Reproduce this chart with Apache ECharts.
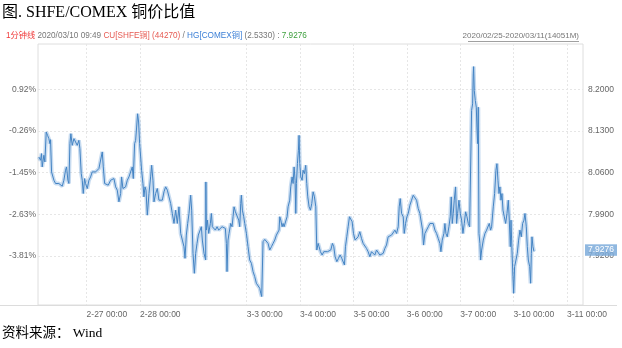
<!DOCTYPE html>
<html>
<head>
<meta charset="utf-8">
<script src="https://cdn.jsdelivr.net/npm/echarts@6/dist/echarts.min.js"></script>
<style>
html, body { margin: 0; padding: 0; background: #fff; }
#container { width: 622px; height: 348px; }
</style>
</head>
<body>
<div id="container"></div>
<script>
// 横轴单位：交易日（2-27 00:00 = 0）
const xTicks = [0, 1, 3, 4, 5, 6, 7, 8, 9];
const xLabels = ['2-27 00:00', '2-28 00:00', '3-3 00:00', '3-4 00:00', '3-5 00:00',
  '3-6 00:00', '3-7 00:00', '3-10 00:00', '3-11 00:00'];

// 左轴百分比 / 右轴比值
const ratioTicks = [8.2, 8.13, 8.06, 7.99, 7.92];
const pctLabels = ['0.92%', '-0.26%', '-1.45%', '-2.63%', '-3.81%'];

const lastRatio = 7.9276;

const times = [
  -0.894, -0.862, -0.844, -0.831, -0.800, -0.781, -0.756, -0.731, -0.706, -0.687,
  -0.675, -0.656, -0.612, -0.581, -0.550, -0.519, -0.487, -0.456, -0.425, -0.394,
  -0.375, -0.350, -0.331, -0.312, -0.294, -0.269, -0.237, -0.206, -0.175, -0.144,
  -0.125, -0.100, -0.081, -0.062, -0.037, -0.019, 0.013, 0.044, 0.075, 0.106,
  0.138, 0.169, 0.200, 0.231, 0.263, 0.294, 0.313, 0.338, 0.369, 0.406,
  0.450, 0.481, 0.513, 0.544, 0.575, 0.606, 0.638, 0.656, 0.681, 0.700,
  0.731, 0.763, 0.794, 0.825, 0.856, 0.875, 0.900, 0.919, 0.938, 0.956,
  0.975, 0.994, 1.013, 1.031, 1.056, 1.075, 1.094, 1.113, 1.138, 1.169,
  1.200, 1.219, 1.244, 1.263, 1.294, 1.325, 1.356, 1.388, 1.419, 1.450,
  1.481, 1.513, 1.544, 1.575, 1.606, 1.638, 1.669, 1.700, 1.731, 1.763,
  1.794, 1.825, 1.844, 1.869, 1.894, 1.919, 1.950, 1.969, 1.994, 2.019,
  2.044, 2.069, 2.094, 2.119, 2.150, 2.169, 2.200, 2.231,
  2.235, 2.244, 2.263, 2.288, 2.319, 2.338, 2.356, 2.381, 2.413, 2.444,
  2.475, 2.506, 2.538, 2.569, 2.600, 2.619, 2.631, 2.650, 2.669, 2.700,
  2.725, 2.744, 2.763, 2.788, 2.819, 2.850, 2.869, 2.888, 2.900, 2.919,
  2.944, 2.963, 2.994, 3.025, 3.056, 3.088, 3.119, 3.150, 3.181, 3.213,
  3.244, 3.263, 3.281, 3.306, 3.338, 3.369, 3.400, 3.431, 3.463, 3.494,
  3.525, 3.556, 3.588, 3.606, 3.619, 3.638, 3.663, 3.681, 3.700, 3.731,
  3.756, 3.775, 3.806, 3.825, 3.850, 3.869, 3.888, 3.906, 3.919, 3.931,
  3.950, 3.969, 3.981, 3.994, 4.013, 4.038, 4.056, 4.081, 4.106, 4.125,
  4.144, 4.169, 4.194, 4.219, 4.244, 4.269, 4.294, 4.313, 4.338, 4.356,
  4.381, 4.413, 4.444, 4.475, 4.513, 4.544, 4.575, 4.606, 4.631, 4.656,
  4.688, 4.719, 4.750, 4.781, 4.806, 4.831, 4.850, 4.875, 4.900, 4.925,
  4.950, 4.975, 5.000, 5.031, 5.056, 5.088, 5.119, 5.150, 5.181, 5.213,
  5.244, 5.275,
  5.307, 5.338, 5.369, 5.400, 5.432, 5.463, 5.494, 5.525, 5.557, 5.588,
  5.619, 5.650, 5.682, 5.713, 5.744, 5.776, 5.807, 5.838, 5.857, 5.876,
  5.901, 5.932, 5.951, 5.976, 6.001, 6.026, 6.057, 6.088, 6.119, 6.151,
  6.182, 6.213, 6.244, 6.276, 6.294, 6.313, 6.338, 6.369, 6.401, 6.432,
  6.463, 6.494, 6.526, 6.557, 6.588, 6.619, 6.638, 6.663, 6.694, 6.713,
  6.732, 6.757, 6.788, 6.813, 6.832, 6.851, 6.869, 6.888, 6.913, 6.932,
  6.951, 6.976, 7.001, 7.026, 7.051, 7.076, 7.101, 7.126, 7.151, 7.176,
  7.201, 7.213, 7.232, 7.244, 7.251, 7.263, 7.282, 7.301, 7.313, 7.326,
  7.338, 7.351, 7.369, 7.382, 7.401, 7.432, 7.463, 7.494, 7.526, 7.544,
  7.569, 7.588, 7.619, 7.644, 7.669, 7.688, 7.707, 7.726, 7.744, 7.763,
  7.782, 7.801, 7.826, 7.851, 7.876, 7.901, 7.919, 7.938, 7.951, 7.969,
  7.988, 8.001, 8.019, 8.044, 8.069, 8.094, 8.119, 8.144, 8.169, 8.194,
  8.213, 8.238, 8.257, 8.276, 8.301, 8.319, 8.332, 8.344, 8.363, 8.382,
];

const ratios = [
  8.0866, 8.0810, 8.0922, 8.0698, 8.0894, 8.0782, 8.1285, 8.1229, 8.1173, 8.1089,
  8.1156, 8.0614, 8.0474, 8.0419, 8.0391, 8.0419, 8.0391, 8.0374, 8.0474, 8.0642,
  8.0698, 8.0474, 8.0419, 8.1089, 8.1257, 8.1061, 8.1173, 8.1117, 8.1061, 8.1145,
  8.1005, 8.0586, 8.0474, 8.0251, 8.0502, 8.0419, 8.0335, 8.0474, 8.0530, 8.0614,
  8.0586, 8.0614, 8.0642, 8.0670, 8.0698, 8.0950, 8.0698, 8.0419, 8.0446, 8.0391,
  8.0474, 8.0446, 8.0502, 8.0363, 8.0307, 8.0111, 8.0251, 8.0530, 8.0335, 8.0363,
  8.0363, 8.0474, 8.0530, 8.0558, 8.0698, 8.0502, 8.1089, 8.1145, 8.1369, 8.1592,
  8.1453, 8.1089, 8.0866, 8.0642, 8.0419, 8.0195, 8.0363, 8.0307, 7.9887, 8.0251,
  8.0530, 8.0726, 8.0474, 8.0111, 8.0251, 8.0335, 8.0139, 8.0167, 8.0139, 8.0279,
  8.0363, 8.0307, 8.0195, 8.0083, 7.9915, 7.9748, 7.9971, 7.9748, 8.0027, 7.9580,
  7.9468, 7.9356, 7.9161, 7.9552, 7.9748, 7.9915, 8.0223, 7.9971, 7.9245, 7.8909,
  7.9245, 7.9412, 7.9552, 7.9580, 7.9692, 7.9468, 7.9245, 7.9133,
  8.0446, 7.9636, 7.9804, 7.9580, 7.9748, 7.9915, 7.9692, 7.9664, 7.9636, 7.9692,
  7.9636, 7.9664, 7.9692, 7.9664, 7.9664, 7.9412, 7.8937, 7.9468, 7.9580, 7.9748,
  7.9692, 7.9860, 8.0027, 7.9943, 7.9915, 7.9804, 7.9692, 8.0083, 8.0223, 7.9971,
  7.9860, 7.9748, 7.9580, 7.9356, 7.9133, 7.9077, 7.8937, 7.8853, 7.8741, 7.8713,
  7.8658, 7.8574, 7.8518, 7.9440, 7.9479, 7.9468, 7.9412, 7.9300, 7.9356, 7.9412,
  7.9468, 7.9552, 7.9524, 7.9636, 7.9860, 7.9804, 7.9692, 7.9748, 7.9692, 7.9720,
  7.9860, 8.0027, 8.0139, 8.0363, 8.0530, 8.0419, 8.0698, 8.0474, 7.9915, 8.0419,
  8.0754, 8.0978, 8.1229, 8.0754, 8.0530, 8.0474, 8.0642, 8.0586, 8.0726, 8.0419,
  8.0195, 8.0027, 7.9971, 8.0083, 8.0279, 8.0195, 8.0027, 7.9300, 7.9412, 7.9356,
  7.9273, 7.9217, 7.9273, 7.9245, 7.9273, 7.9245, 7.9300, 7.9412, 7.9356, 7.9189,
  7.9105, 7.9161, 7.9217, 7.9161, 7.9133, 7.9049, 7.9356, 7.9524, 7.9692, 7.9860,
  7.9887, 7.9776, 7.9580, 7.9468, 7.9440, 7.9524, 7.9608, 7.9496, 7.9412, 7.9440,
  7.9328, 7.9272,
  7.9188, 7.9272, 7.9244, 7.9216, 7.9300, 7.9272, 7.9216, 7.9188, 7.9244, 7.9328,
  7.9384, 7.9523, 7.9495, 7.9551, 7.9579, 7.9635, 7.9579, 7.9691, 8.0026, 8.0166,
  7.9915, 7.9859, 7.9579, 7.9747, 7.9859, 7.9915, 8.0054, 8.0138, 8.0222, 8.0250,
  8.0138, 7.9998, 7.9915, 7.9887, 7.9635, 7.9384, 7.9579, 7.9635, 7.9691, 7.9747,
  7.9775, 7.9747, 7.9635, 7.9579, 7.9495, 7.9411, 7.9272, 7.9467, 7.9579, 7.9747,
  7.9579, 7.9523, 7.9691, 7.9859, 8.0194, 7.9747, 7.9915, 8.0138, 8.0362, 7.9747,
  7.9915, 8.0138, 7.9915, 7.9803, 7.9579, 7.9747, 7.9943, 7.9859, 7.9747, 7.9691,
  7.9663, 8.1648, 8.1759, 8.2262, 8.2385, 8.1983, 8.1815, 8.1703, 8.1368, 8.1089,
  8.1703, 7.9579, 7.9411, 7.9132, 7.9300, 7.9467, 7.9579, 7.9635, 7.9607, 7.9747,
  7.9635, 7.9691, 8.0026, 8.0250, 8.0641, 8.0753, 8.0474, 8.0250, 8.0362, 8.0138,
  8.0250, 7.9971, 7.9859, 7.9747, 7.9915, 8.0138, 7.9803, 7.9356, 7.9803, 7.9300,
  7.8853, 7.8573, 7.9021, 7.9132, 7.9244, 7.9467, 7.9635, 7.9523, 7.9747, 7.9803,
  7.9915, 7.9691, 7.9356, 7.9132, 7.9021, 7.8741, 7.9244, 7.9523, 7.9356, 7.9276,
];

const labelFont = 'Liberation Sans, Noto Sans CJK SC, sans-serif';
const serifFont = 'Liberation Serif, Noto Sans CJK SC, serif';

const pctOf = (v) => {
  let best = 0;
  ratioTicks.forEach((t, i) => {
    if (Math.abs(t - v) < Math.abs(ratioTicks[best] - v)) best = i;
  });
  return pctLabels[best];
};

const seriesData = times.map((t, i) => [t, ratios[i]]);

const richStyle = (color) => ({
  color: color,
  fontSize: 8.2,
  fontWeight: 'normal',
  fontFamily: labelFont,
});

const chart = echarts.init(document.getElementById('container'));

chart.setOption({
  animation: false,
  title: [
    {
      text: '图. SHFE/COMEX 铜价比值',
      left: 2,
      top: 5,
      padding: 0,
      textStyle: { fontFamily: serifFont, fontSize: 16, fontWeight: 'normal', color: '#000' },
    },
    {
      text: '{r|1分钟线} {g|2020/03/10 09:49} {c|CU[SHFE铜] (44270)} {g|/} {b|HG[COMEX铜]} {g|(2.5330) :} {n|7.9276}',
      left: 6,
      top: 32,
      padding: 0,
      textStyle: {
        fontSize: 8.2,
        fontWeight: 'normal',
        fontFamily: labelFont,
        rich: {
          r: richStyle('#f03a3a'),
          g: richStyle('#777'),
          c: richStyle('#e65a52'),
          b: richStyle('#3b7fd6'),
          n: richStyle('#3c9f3c'),
        },
      },
    },
    {
      text: '2020/02/25-2020/03/11(14051M)',
      right: 43,
      top: 32,
      padding: 0,
      textStyle: { fontFamily: labelFont, fontSize: 8, fontWeight: 'normal', color: '#777' },
    },
    {
      text: '资料来源： Wind',
      left: 2,
      top: 327,
      padding: 0,
      textStyle: { fontFamily: serifFont, fontSize: 13.5, fontWeight: 'normal', color: '#000' },
    },
  ],
  // 底部长横线和右上日期下划线
  graphic: [
    {
      type: 'line',
      shape: { x1: 0, y1: 305.5, x2: 617, y2: 305.5 },
      style: { stroke: '#dcdcdc', lineWidth: 1 },
      silent: true,
    },
    {
      type: 'line',
      shape: { x1: 468, y1: 41.5, x2: 579, y2: 41.5 },
      style: { stroke: '#888', lineWidth: 0.8 },
      silent: true,
    },
  ],
  grid: {
    left: 38,
    right: 39,
    top: 44,
    bottom: 43,
    show: true,
    borderColor: '#dedede',
    borderWidth: 1,
  },
  xAxis: {
    type: 'value',
    min: -0.91,
    max: 9.3,
    axisLine: { show: false },
    axisTick: { show: false, customValues: xTicks },
    axisLabel: {
      customValues: xTicks,
      formatter: (v) => xLabels[xTicks.indexOf(v)] || '',
      align: 'left',
      margin: 5,
      color: '#666',
      fontSize: 8.5,
      fontFamily: labelFont,
    },
    splitLine: { show: true, lineStyle: { color: '#e6e6e6', type: [2, 2] } },
  },
  yAxis: [
    {
      type: 'value',
      position: 'left',
      min: 7.8376,
      max: 8.2765,
      axisLine: { show: false },
      axisTick: { show: false, customValues: ratioTicks },
      axisLabel: {
        customValues: ratioTicks,
        formatter: (v) => pctOf(v),
        margin: 2,
        color: '#666',
        fontSize: 8.5,
        fontFamily: labelFont,
      },
      splitLine: { show: true, lineStyle: { color: '#e6e6e6', type: [2, 2] } },
    },
    {
      type: 'value',
      position: 'right',
      min: 7.8376,
      max: 8.2765,
      axisLine: { show: false },
      axisTick: { show: false, customValues: ratioTicks },
      axisLabel: {
        customValues: ratioTicks,
        formatter: (v) => v.toFixed(4),
        margin: 5,
        color: '#666',
        fontSize: 8.5,
        fontFamily: labelFont,
      },
      splitLine: { show: false },
    },
  ],
  series: [
    {
      // 浅色外晕
      type: 'line',
      yAxisIndex: 1,
      data: seriesData,
      showSymbol: false,
      silent: true,
      lineStyle: { color: 'rgba(115,165,218,0.4)', width: 4 },
    },
    {
      type: 'line',
      yAxisIndex: 1,
      data: seriesData,
      showSymbol: false,
      lineStyle: { color: '#4383c3', width: 1 },
      markLine: {
        silent: true,
        symbol: 'none',
        lineStyle: { color: 'transparent', width: 0 },
        label: {
          show: true,
          position: 'end',
          distance: 2,
          formatter: () => lastRatio.toFixed(4),
          color: '#fff',
          backgroundColor: 'rgba(125,172,218,0.85)',
          padding: [2, 3, 1, 3],
          fontSize: 8.5,
          fontFamily: labelFont,
        },
        data: [{ yAxis: lastRatio }],
      },
    },
  ],
});
</script>
</body>
</html>
